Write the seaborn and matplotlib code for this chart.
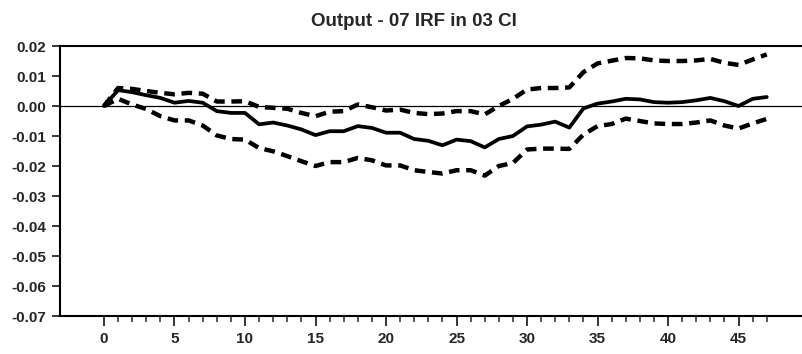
import matplotlib
matplotlib.use('Agg')
import matplotlib.pyplot as plt
from matplotlib.ticker import MultipleLocator
import pandas as pd
import seaborn as sns

# horizon (periods) and impulse response with confidence bands
horizon = list(range(48))
irf = [0.0, 0.0053, 0.0046, 0.0036, 0.0027, 0.0011, 0.0017, 0.0011, -0.0017, -0.0023,
       -0.0023, -0.0061, -0.0055, -0.0065, -0.0078, -0.0097, -0.0084, -0.0084, -0.0067, -0.0073,
       -0.0089, -0.0089, -0.0110, -0.0116, -0.0131, -0.0112, -0.0117, -0.0138, -0.0110, -0.0100,
       -0.0068, -0.0062, -0.0052, -0.0072, -0.0008, 0.0008, 0.0015, 0.0024, 0.0022, 0.0013,
       0.0011, 0.0013, 0.0019, 0.0027, 0.0016, 0.0000, 0.0024, 0.0030]
upper = [0.0, 0.0060, 0.0057, 0.0050, 0.0044, 0.0039, 0.0044, 0.0041, 0.0015, 0.0015,
         0.0016, -0.0003, -0.0006, -0.0009, -0.0023, -0.0034, -0.0019, -0.0017, 0.0005, -0.0004,
         -0.0015, -0.0012, -0.0023, -0.0027, -0.0025, -0.0017, -0.0017, -0.0028, 0.0000, 0.0024,
         0.0055, 0.0060, 0.0060, 0.0062, 0.0113, 0.0142, 0.0151, 0.0160, 0.0159, 0.0152,
         0.0150, 0.0150, 0.0152, 0.0157, 0.0144, 0.0137, 0.0155, 0.0172]
lower = [0.0, 0.0024, 0.0005, -0.0010, -0.0034, -0.0048, -0.0048, -0.0065, -0.0098, -0.0110,
         -0.0112, -0.0140, -0.0151, -0.0167, -0.0184, -0.0200, -0.0187, -0.0187, -0.0173, -0.0181,
         -0.0198, -0.0198, -0.0214, -0.0220, -0.0225, -0.0214, -0.0214, -0.0232, -0.0200, -0.0190,
         -0.0145, -0.0142, -0.0142, -0.0143, -0.0095, -0.0067, -0.0060, -0.0042, -0.0050, -0.0058,
         -0.0060, -0.0060, -0.0055, -0.0048, -0.0065, -0.0075, -0.0058, -0.0043]

title = 'Output - 07 IRF in 03 CI'
y_ticks = [0.02, 0.01, 0.0, -0.01, -0.02, -0.03, -0.04, -0.05, -0.06, -0.07]

df = pd.DataFrame({'t': horizon, 'irf': irf, 'upper': upper, 'lower': lower})

sns.set_style('ticks')
plt.rcParams['font.family'] = ['Liberation Sans Narrow', 'Liberation Sans', 'DejaVu Sans']
plt.rcParams['font.weight'] = 'bold'

fig = plt.figure(figsize=(8.02, 3.54), dpi=100)
ax = fig.add_axes([0.0748, 0.1073, 0.9252, 0.7627])

ax.axhline(0, color='black', lw=0.9, zorder=1)
sns.lineplot(data=df, x='t', y='irf', ax=ax, color='black', lw=2.7, zorder=3)
for col in ['upper', 'lower']:
    sns.lineplot(data=df, x='t', y=col, ax=ax, color='black', lw=3.2,
                 zorder=2).lines[-1].set_dashes((2.4, 1.5))

ax.set_xlim(-3.12, 49.5)
ax.set_ylim(-0.07, 0.02)
ax.set_yticks(y_ticks)
ax.set_yticklabels([f'{v:.2f}' for v in y_ticks])
ax.xaxis.set_major_locator(MultipleLocator(5))
ax.set_xticks([i for i in horizon if i % 5 != 0], minor=True)
ax.set_xlabel('')
ax.set_ylabel('')

for side in ['left', 'bottom', 'top']:
    ax.spines[side].set_linewidth(1.5)
    ax.spines[side].set_color('black')
ax.spines['right'].set_visible(False)

ax.tick_params(axis='y', which='major', length=6, width=1.3, pad=4, labelsize=11)
ax.tick_params(axis='x', which='major', length=7.5, width=1.3, pad=4, labelsize=11)
ax.tick_params(axis='x', which='minor', length=4, width=1.1)
for lab in ax.get_xticklabels() + ax.get_yticklabels():
    lab.set_fontweight('bold')

fig.text(0.516, 0.938, title, ha='center', va='center', fontsize=13.5, fontweight='bold')

fig.savefig('out.png', dpi=100)
